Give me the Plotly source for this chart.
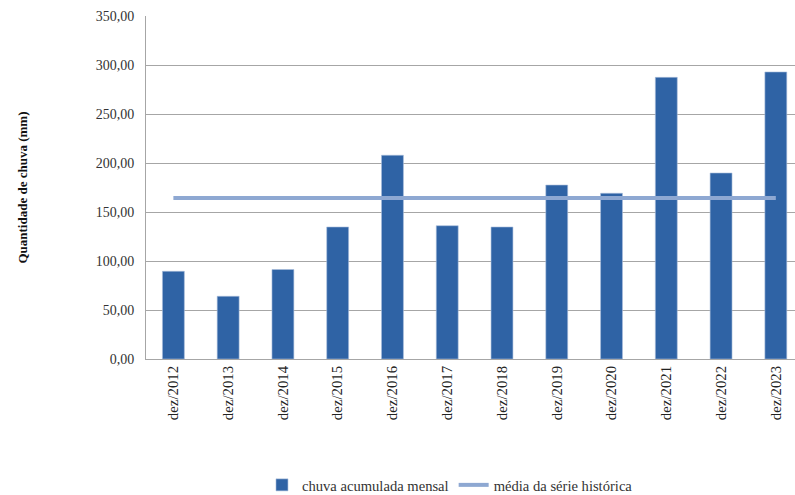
import plotly.graph_objects as go

categories = ["dez/2012", "dez/2013", "dez/2014", "dez/2015", "dez/2016", "dez/2017",
              "dez/2018", "dez/2019", "dez/2020", "dez/2021", "dez/2022", "dez/2023"]
chuva = [89.5, 64.0, 91.3, 134.7, 207.9, 136.0, 134.7, 177.5, 169.1, 287.4, 189.8, 292.9]
media = [164.3] * len(categories)
y_ticks = [0, 50, 100, 150, 200, 250, 300, 350]

serif = "Liberation Serif"

fig = go.Figure()
fig.add_trace(go.Bar(
    x=categories, y=chuva, name="chuva acumulada mensal",
    marker=dict(color="#2f63a5", line=dict(color="rgba(170,190,220,0.6)", width=1)),
    width=0.4,
))
fig.add_trace(go.Scatter(
    x=categories, y=media, name="média da série histórica", mode="lines",
    line=dict(color="#8ea8d2", width=4),
))

fig.update_layout(
    width=795, height=495,
    margin=dict(l=146, r=0, t=16, b=136, autoexpand=False),
    paper_bgcolor="white", plot_bgcolor="white",
    separators=",.",
    font=dict(family=serif, size=14, color="#333333"),
    showlegend=True,
    legend=dict(orientation="h", xref="container", yref="paper",
                x=0.566, y=-0.367, xanchor="center", yanchor="middle",
                font=dict(family=serif, size=14.6, color="#333333"),
                itemwidth=30, traceorder="normal"),
    bargap=0.6,
    annotations=[dict(text="<b>Quantidade de chuva (mm)</b>", xref="paper", yref="paper",
                      x=-0.191, y=0.5, xanchor="center", yanchor="middle",
                      textangle=-90, showarrow=False,
                      font=dict(family=serif, size=13, color="#111111"))],
)
fig.update_xaxes(
    type="category", range=[-0.5, 11.35],
    tickangle=-90, showgrid=False,
    showline=True, linecolor="#a6a6a6", linewidth=1,
    ticks="", tickfont=dict(family=serif, size=14.8, color="#222222"),
)
fig.update_yaxes(
    range=[0, 350], tickvals=y_ticks, tickformat=".2f",
    showgrid=True, gridcolor="#a6a6a6", gridwidth=1,
    showline=True, linecolor="#a6a6a6", linewidth=1,
    zeroline=False, ticks="outside", ticklen=8, tickcolor="rgba(0,0,0,0)",
    tickfont=dict(family=serif, size=14, color="#333333"),
)

fig.write_html("out.html", config={"displayModeBar": False},
               post_script="document.body.style.margin='0';document.body.style.overflow='hidden';")
